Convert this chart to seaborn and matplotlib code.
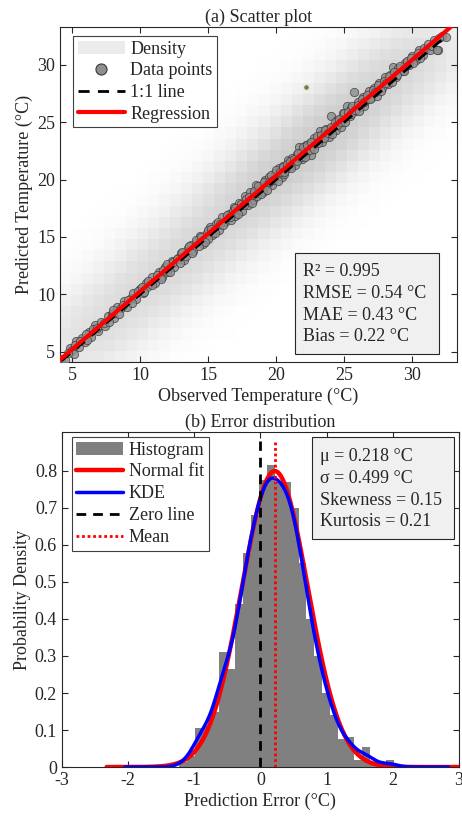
import numpy as np
import pandas as pd
import matplotlib
matplotlib.use('Agg')
import matplotlib.pyplot as plt
import seaborn as sns
from matplotlib.colors import LinearSegmentedColormap, PowerNorm
from matplotlib.patches import Patch, Rectangle
from matplotlib.lines import Line2D

sns.set_style('ticks')
plt.rcParams['font.family'] = ['Liberation Serif', 'DejaVu Serif']
plt.rcParams['axes.unicode_minus'] = False
plt.rcParams['text.color'] = '#262626'
plt.rcParams['axes.labelcolor'] = '#262626'

# ---- (a) scatter data: observed vs predicted temperature (deg C)
observed_a = [4.2, 4.5, 4.8, 5.0, 5.3, 5.5, 5.7, 5.9, 6.2, 6.4, 6.7, 6.9, 7.1, 7.4, 7.6, 7.9,
              8.1, 8.3, 8.6, 8.8, 9.0, 9.3, 9.5, 9.7, 10.0, 10.2, 10.4, 10.7, 10.9, 11.1, 11.4,
              11.6, 11.8, 12.1, 12.3, 12.5, 12.8, 13.0, 13.2, 13.5, 13.7, 13.9, 14.2, 14.4, 14.6,
              14.9, 15.1, 15.3, 15.6, 15.8, 16.0, 16.2, 16.5, 16.7, 16.9, 17.1, 17.3, 17.5, 17.7,
              17.9, 18.1, 18.3, 18.5, 18.6, 18.8, 19.0, 19.2, 19.3, 19.5, 19.7, 19.9, 20.0, 20.2,
              20.4, 20.5, 20.7, 20.9, 21.0, 21.2, 21.4, 21.5, 21.7, 21.9, 22.0, 22.2, 22.3, 22.5,
              22.7, 22.8, 23.0, 23.2, 23.4, 23.5, 23.7, 23.9, 24.0, 24.2, 24.4, 24.5, 24.7, 24.9,
              25.0, 25.2, 25.4, 25.5, 25.7, 25.8, 26.0, 26.2, 26.4, 26.6, 26.8, 27.0, 27.2, 27.4,
              27.6, 27.8, 28.0, 28.2, 28.4, 28.6, 28.8, 29.0, 29.3, 29.5, 29.8, 30.0, 30.3, 30.5,
              30.8, 31.0, 31.3, 31.6, 31.9, 32.2, 32.5,
              19.1, 20.6, 21.8, 22.6, 23.6, 24.8, 18.4, 26.5, 17.0, 15.0, 12.0, 10.5, 8.0, 6.0, 5.1]
predicted_a = [4.4, 4.3, 5.3, 5.1, 5.9, 5.4, 6.2, 5.8, 6.7, 6.3, 7.3, 6.8, 7.6, 7.2, 8.1, 8.3,
               7.9, 8.9, 8.8, 9.4, 8.9, 9.7, 10.1, 9.6, 10.5, 10.1, 11.0, 10.9, 11.5, 11.0, 11.9,
               11.5, 12.4, 12.3, 12.9, 12.4, 13.2, 13.6, 13.0, 14.0, 14.3, 13.8, 14.6, 15.1, 14.4,
               15.3, 15.9, 15.2, 16.1, 15.6, 16.7, 16.3, 17.0, 16.5, 17.6, 17.2, 18.0, 17.3, 18.6,
               17.8, 18.9, 18.2, 19.5, 18.6, 19.3, 18.9, 20.0, 19.6, 20.2, 19.5, 20.6, 20.3, 21.0,
               20.2, 21.2, 20.9, 21.7, 21.2, 21.9, 21.3, 22.2, 22.8, 21.8, 22.5, 23.0, 22.4, 23.2,
               22.9, 23.6, 23.3, 24.2, 23.3, 24.0, 24.4, 23.7, 25.5, 24.6, 24.3, 25.2, 25.0, 25.8,
               25.3, 26.4, 25.5, 26.2, 27.6, 26.0, 26.8, 26.3, 27.2, 26.9, 27.7, 27.1, 28.0, 27.3,
               28.4, 28.0, 28.9, 28.3, 29.1, 29.8, 28.9, 29.7, 29.5, 30.2, 30.0, 30.8, 30.4, 31.3,
               30.9, 31.4, 31.3, 32.2, 31.3, 32.5, 32.4,
               19.4, 20.5, 22.3, 22.1, 23.9, 24.6, 18.8, 26.4, 16.8, 14.8, 11.9, 10.6, 8.4, 6.5, 4.8]
observed_b = [4.7, 5.2, 5.6, 6.1, 6.5, 6.8, 7.3, 7.7, 8.0, 8.4,
              8.7, 9.1, 9.4, 9.8, 10.1, 10.3, 10.6, 10.9, 11.2, 11.5,
              11.7, 12.0, 12.2, 12.4, 12.7, 12.9, 13.1, 13.4, 13.6, 13.8,
              14.1, 14.3, 14.5, 14.8, 15.0, 15.2, 15.5, 15.7, 15.9, 16.1,
              16.4, 16.6, 16.8, 17.0, 17.2, 17.4, 17.6, 17.8, 18.0, 18.2,
              18.4, 18.7, 18.9, 19.1, 19.3, 19.5, 19.6, 19.8, 20.0, 20.1,
              20.3, 20.5, 20.6, 20.8, 21.0, 21.1, 21.3, 21.5, 21.6, 21.8,
              22.0, 22.1, 22.3, 22.5, 22.6, 22.8, 23.0, 23.1, 23.3, 23.5,
              23.6, 23.8, 24.0, 24.1, 24.3, 24.5, 24.6, 24.8, 25.0, 25.1,
              25.3, 25.5, 25.6, 25.8, 26.0, 26.1, 26.3, 26.5, 26.7, 26.9,
              27.1, 27.3, 27.5, 27.7, 27.9, 28.1, 28.3, 28.5, 28.7, 28.9,
              29.1, 29.4, 29.6, 29.9, 30.1, 30.4, 30.6, 30.9, 31.2, 31.5,
              31.8, 32.0]
predicted_b = [4.9, 5.6, 5.9, 6.0, 7.0, 7.1, 7.5, 7.6, 8.6, 8.3,
               9.1, 9.5, 9.2, 10.3, 10.6, 10.2, 11.2, 10.8, 11.7, 11.3,
               12.1, 12.6, 11.9, 12.8, 13.1, 12.7, 13.7, 13.3, 14.2, 13.6,
               14.7, 14.2, 15.0, 14.6, 15.6, 15.7, 15.3, 16.3, 16.1, 16.0,
               16.9, 16.7, 17.3, 17.5, 17.0, 17.9, 17.8, 18.3, 18.5, 18.0,
               19.0, 19.4, 18.7, 19.8, 19.1, 19.8, 20.4, 20.0, 20.8, 19.9,
               20.7, 21.1, 20.7, 21.4, 21.6, 21.0, 21.8, 21.6, 22.3, 22.0,
               22.8, 22.0, 23.0, 22.6, 23.3, 22.7, 23.8, 23.2, 23.9, 23.6,
               24.3, 24.1, 24.6, 24.0, 25.0, 24.8, 25.3, 25.0, 25.8, 25.0,
               25.9, 25.7, 26.4, 26.1, 26.5, 26.0, 27.0, 26.8, 27.4, 27.0,
               27.8, 27.6, 28.2, 27.7, 28.6, 28.4, 29.0, 28.5, 29.4, 29.1,
               29.9, 29.5, 30.3, 30.6, 30.2, 31.0, 30.6, 31.5, 31.8, 31.6,
               31.3, 32.3]
outlier_obs = [22.2]
outlier_pred = [28.1]
scatter_stats = ['R² = 0.995', 'RMSE = 0.54 °C', 'MAE = 0.43 °C', 'Bias = 0.22 °C']

# ---- (b) error histogram (bin edges and density heights), fitted normal, stats
hist_edges = [-1.224, -1.104, -0.984, -0.864, -0.744, -0.624, -0.504, -0.384, -0.264,
              -0.144, -0.024, 0.096, 0.216, 0.336, 0.456, 0.576, 0.696, 0.816, 0.936,
              1.056, 1.176, 1.296, 1.416, 1.536, 1.656, 1.776, 1.896, 2.016]
hist_heights = [0.014, 0.03, 0.105, 0.11, 0.15, 0.31, 0.265, 0.44, 0.578, 0.68,
                0.775, 0.815, 0.77, 0.77, 0.70, 0.55, 0.40, 0.30, 0.20, 0.14,
                0.075, 0.08, 0.02, 0.054, 0.01, 0.005, 0.018]
err_mu = 0.218
err_sigma = 0.499
error_stats = ['μ = 0.218 °C', 'σ = 0.499 °C', 'Skewness = 0.15', 'Kurtosis = 0.21']

obs = np.array(observed_a + observed_b)
pred = np.array(predicted_a + predicted_b)
edges = np.array(hist_edges)
hist_df = pd.DataFrame({'err': (edges[:-1] + edges[1:]) / 2, 'dens': hist_heights})

fig = plt.figure(figsize=(4.62, 8.18), dpi=100)
ax1 = fig.add_axes([0.130, 0.5575, 0.859, 0.4095])
ax2 = fig.add_axes([0.134, 0.0623, 0.8593, 0.4095])

# ---------------- (a) scatter
lim = (4.1, 33.3)
gx = np.linspace(lim[0], lim[1], 37)
gy = np.linspace(lim[0], lim[1], 31)
cx = (gx[:-1] + gx[1:]) / 2
cy = (gy[:-1] + gy[1:]) / 2
X, Y = np.meshgrid(cx, cy)
bw = 2.2
dens = np.zeros_like(X)
for o, p in zip(obs, pred):
    dens += np.exp(-((X - o) ** 2 + (Y - p) ** 2) / (2 * bw ** 2))
cmap = LinearSegmentedColormap.from_list('dens', ['#ffffff', '#cbcbcb'])
ax1.pcolormesh(gx, gy, dens, cmap=cmap, norm=PowerNorm(0.75, vmin=0, vmax=dens.max()),
               shading='flat', zorder=0)

sns.scatterplot(x=obs, y=pred, s=36, color='#8e8e8e', edgecolor='#3a3a3a', linewidth=0.6,
                alpha=0.8, ax=ax1, zorder=3, legend=False)
sns.scatterplot(x=outlier_obs, y=outlier_pred, s=14, color='#6b7b52', edgecolor='#e6e6b0',
                linewidth=0.5, ax=ax1, zorder=3, legend=False)

line_x = np.array([obs.min(), obs.max()])
ax1.plot(line_x, line_x, color='black', lw=2, dashes=(4, 3), zorder=4)
slope, icpt = np.polyfit(obs, pred, 1)
reg_x = np.array([lim[0], lim[1] + 1])
ax1.plot(reg_x, slope * reg_x + icpt, color='red', lw=3, zorder=5)

ax1.set_xlim(lim)
ax1.set_ylim(lim)
ax1.set_xticks([5, 10, 15, 20, 25, 30])
ax1.set_yticks([5, 10, 15, 20, 25, 30])
ax1.set_title('(a) Scatter plot', fontsize=13, pad=4)
ax1.set_xlabel('Observed Temperature (°C)', fontsize=13, labelpad=3)
ax1.set_ylabel('Predicted Temperature (°C)', fontsize=13, labelpad=3)

h1 = [Patch(facecolor='#ebebeb', edgecolor='none'),
      Line2D([], [], ls='none', marker='o', ms=8, mfc='#8e8e8e', mec='#3a3a3a', mew=0.8),
      Line2D([], [], color='black', lw=2, dashes=(4, 3)),
      Line2D([], [], color='red', lw=3)]
leg1 = ax1.legend(h1, ['Density', 'Data points', '1:1 line', 'Regression'], loc='upper left',
                  bbox_to_anchor=(0.033, 0.973), borderaxespad=0, fontsize=13,
                  handlelength=2.6, handletextpad=0.3, labelspacing=0.26, borderpad=0.25,
                  fancybox=False, framealpha=1, edgecolor='#404040')
leg1.get_frame().set_linewidth(0.8)

ax1.add_patch(Rectangle((0.592, 0.024), 0.363, 0.301, transform=ax1.transAxes,
                        facecolor='#f0f0f0', edgecolor='#262626', lw=0.8, zorder=6))
for i, s in enumerate(scatter_stats):
    ax1.text(0.611, 0.2696 - i * 0.0647, s, transform=ax1.transAxes, fontsize=13,
             va='center', ha='left', zorder=7)

# ---------------- (b) error distribution
sns.histplot(data=hist_df, x='err', weights='dens', bins=list(hist_edges), color='#808080',
             alpha=1, linewidth=0, ax=ax2, zorder=1)
fit_x = np.linspace(edges[0] - 1.1, edges[-1] + 1.0, 400)
fit_y = np.exp(-0.5 * ((fit_x - err_mu) / err_sigma) ** 2) / (err_sigma * np.sqrt(2 * np.pi))
ax2.plot(fit_x, fit_y, color='red', lw=3.2, zorder=3)
sns.kdeplot(data=hist_df, x='err', weights='dens', bw_adjust=0.4, cut=4.5, color='blue', lw=2.5,
            ax=ax2, zorder=4)
ax2.plot([0, 0], [0, 0.88], color='black', lw=2, dashes=(3.5, 2.5), zorder=5)
ax2.plot([err_mu, err_mu], [0, 0.88], color='red', lw=2, ls=(0, (1, 1)), zorder=5)

ax2.set_xlim(-3, 3)
ax2.set_ylim(0, 0.905)
ax2.set_xticks([-3, -2, -1, 0, 1, 2, 3])
ax2.set_xticklabels(['-3', '-2', '-1', '0', '1', '2', '3'])
yt = [0, 0.1, 0.2, 0.3, 0.4, 0.5, 0.6, 0.7, 0.8]
ax2.set_yticks(yt)
ax2.set_yticklabels(['0'] + [f'{v:g}' for v in yt[1:]])
ax2.set_title('(b) Error distribution', fontsize=13, pad=4)
ax2.set_xlabel('Prediction Error (°C)', fontsize=13, labelpad=3)
ax2.set_ylabel('Probability Density', fontsize=13, labelpad=3)

h2 = [Patch(facecolor='#808080', edgecolor='none'),
      Line2D([], [], color='red', lw=3.2),
      Line2D([], [], color='blue', lw=2.5),
      Line2D([], [], color='black', lw=2, dashes=(3.5, 2.5)),
      Line2D([], [], color='red', lw=2, ls=(0, (1, 1)))]
leg2 = ax2.legend(h2, ['Histogram', 'Normal fit', 'KDE', 'Zero line', 'Mean'], loc='upper left',
                  bbox_to_anchor=(0.025, 0.985), borderaxespad=0, fontsize=13,
                  handlelength=2.6, handletextpad=0.3, labelspacing=0.27, borderpad=0.25,
                  fancybox=False, framealpha=1, edgecolor='#404040')
leg2.get_frame().set_linewidth(0.8)

ax2.add_patch(Rectangle((0.630, 0.681), 0.357, 0.304, transform=ax2.transAxes,
                        facecolor='#f0f0f0', edgecolor='#262626', lw=0.8, zorder=6))
for i, s in enumerate(error_stats):
    ax2.text(0.650, 0.926 - i * 0.0647, s, transform=ax2.transAxes, fontsize=13,
             va='center', ha='left', zorder=7)

for ax in (ax1, ax2):
    ax.tick_params(direction='in', top=True, right=True, length=4, width=0.8,
                   colors='#262626', labelsize=13)
    for sp in ax.spines.values():
        sp.set_visible(True)
        sp.set_color('#262626')
        sp.set_linewidth(0.8)

fig.savefig('out.png', dpi=100)
